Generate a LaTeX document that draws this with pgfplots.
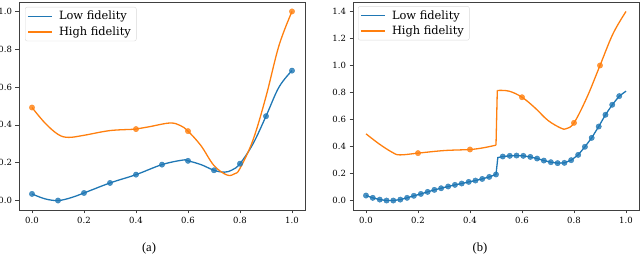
\documentclass[border=0pt]{standalone}
\usepackage{pgfplots}
\pgfplotsset{compat=1.18}
\usepackage{fontspec}
\setmainfont{Liberation Serif}
\newfontfamily\dvs{DejaVu Serif}
\definecolor{tabblue}{HTML}{1F77B4}
\definecolor{taborange}{HTML}{FF7F0E}
\pgfplotsset{
  mystyle/.style={
    scale only axis, width=286pt, height=208pt, anchor=south west,
    xmin=-0.05, xmax=1.05,
    axis line style={black!75, line width=0.8pt},
    tick style={black!75, line width=0.7pt},
    tick align=outside, major tick length=3.5pt,
    xtick pos=bottom, ytick pos=left,
    xtick={0,0.2,0.4,0.6,0.8,1.0},
    ticklabel style={font=\fontsize{8.5}{9}\dvs\selectfont},
    /pgf/number format/assume math mode=true,
    xticklabel style={/pgf/number format/fixed, /pgf/number format/fixed zerofill, /pgf/number format/precision=1},
    yticklabel style={/pgf/number format/fixed, /pgf/number format/fixed zerofill, /pgf/number format/precision=1},
    legend cell align=left,
    legend image code/.code={\draw[#1] (0pt,0pt) -- (24pt,0pt);},
    legend style={anchor=north west, draw=black!15, rounded corners=2pt,
      font=\fontsize{11.4}{13}\dvs\selectfont, inner xsep=2pt, inner ysep=2pt, row sep=1.5pt,
      column sep=3pt, nodes={inner xsep=3.5pt}},
  },
  lo/.style={tabblue, line width=1.3pt, no marks},
  hi/.style={taborange, line width=1.3pt, no marks},
  lom/.style={only marks, mark=*, mark size=2.7pt, mark options={draw=tabblue, fill=tabblue, opacity=0.8}},
  him/.style={only marks, mark=*, mark size=2.7pt, mark options={draw=taborange, fill=taborange, opacity=0.8}},
}
\begin{document}
\begin{tikzpicture}[x=1pt,y=1pt]
\useasboundingbox (0,0) rectangle (640,256);
\begin{axis}[mystyle, at={(19pt,46pt)}, ymin=-0.05, ymax=1.05,
  ytick={0,0.2,0.4,0.6,0.8,1.0},
  legend style={at={(0.021,0.976)}}]
\addplot[lo, smooth, tension=0.6] coordinates {(0,0.035) (0.05,0.009) (0.1,0.0) (0.15,0.015) (0.2,0.04) (0.3,0.093) (0.4,0.137) (0.5,0.19) (0.58,0.214) (0.6,0.21) (0.65,0.19) (0.7,0.16) (0.74,0.15) (0.77,0.162) (0.8,0.195) (0.85,0.3) (0.9,0.446) (0.95,0.6) (1.0,0.687)};
\addlegendentry{Low fidelity}
\addplot[hi, smooth, tension=0.6] coordinates {(0,0.492) (0.05,0.41) (0.1,0.35) (0.14,0.334) (0.2,0.345) (0.3,0.37) (0.4,0.378) (0.45,0.39) (0.53,0.41) (0.57,0.397) (0.6,0.367) (0.65,0.29) (0.7,0.185) (0.75,0.135) (0.78,0.142) (0.8,0.17) (0.85,0.32) (0.9,0.55) (0.95,0.82) (1.0,1.0)};
\addlegendentry{High fidelity}
\addplot[lom, forget plot] coordinates {(0,0.035) (0.1,0.0) (0.2,0.04) (0.3,0.093) (0.4,0.137) (0.5,0.19) (0.6,0.21) (0.7,0.16) (0.8,0.195) (0.9,0.446) (1.0,0.687)};
\addplot[him, forget plot] coordinates {(0,0.492) (0.4,0.378) (0.6,0.367) (1.0,1.0)};
\end{axis}
\begin{axis}[mystyle, at={(353pt,46pt)}, ymin=-0.07, ymax=1.47,
  ytick={0,0.2,0.4,0.6,0.8,1.0,1.2,1.4},
  legend style={at={(0.0175,0.98)}}]
\addplot[lo] coordinates {(0.000,0.037) (0.026,0.020) (0.053,0.007) (0.079,0.000) (0.105,0.000) (0.132,0.007) (0.158,0.020) (0.184,0.035) (0.211,0.049) (0.237,0.064) (0.263,0.079) (0.289,0.091) (0.316,0.104) (0.342,0.116) (0.368,0.126) (0.395,0.138) (0.421,0.148) (0.447,0.160) (0.474,0.175) (0.500,0.193) (0.507,0.318) (0.526,0.326) (0.553,0.331) (0.579,0.333) (0.605,0.331) (0.632,0.323) (0.658,0.311) (0.684,0.296) (0.711,0.284) (0.737,0.277) (0.763,0.279) (0.789,0.299) (0.816,0.338) (0.842,0.398) (0.868,0.464) (0.895,0.548) (0.921,0.635) (0.947,0.709) (0.974,0.773) (1.000,0.810)};
\addlegendentry{Low fidelity}
\addplot[hi, smooth, tension=0.6] coordinates {(0,0.494) (0.05,0.42) (0.1,0.358) (0.13,0.338) (0.2,0.351) (0.3,0.37) (0.4,0.378) (0.45,0.39) (0.5,0.41)};
\addlegendentry{High fidelity}
\addplot[hi, forget plot] coordinates {(0.5,0.41) (0.505,0.815)};
\addplot[hi, smooth, tension=0.6, forget plot] coordinates {(0.505,0.815) (0.55,0.81) (0.6,0.765) (0.65,0.686) (0.7,0.593) (0.75,0.536) (0.77,0.532) (0.8,0.575) (0.85,0.765) (0.9,1.0) (0.95,1.235) (1.0,1.40)};
\addplot[lom, forget plot] coordinates {(0.000,0.037) (0.026,0.020) (0.053,0.007) (0.079,0.000) (0.105,0.000) (0.132,0.007) (0.158,0.020) (0.184,0.035) (0.211,0.049) (0.237,0.064) (0.263,0.079) (0.289,0.091) (0.316,0.104) (0.342,0.116) (0.368,0.126) (0.395,0.138) (0.421,0.148) (0.447,0.160) (0.474,0.175) (0.500,0.193) (0.526,0.326) (0.553,0.331) (0.579,0.333) (0.605,0.331) (0.632,0.323) (0.658,0.311) (0.684,0.296) (0.711,0.284) (0.737,0.277) (0.763,0.279) (0.789,0.299) (0.816,0.338) (0.842,0.398) (0.868,0.464) (0.895,0.548) (0.921,0.635) (0.947,0.709) (0.974,0.773)};
\addplot[him, forget plot] coordinates {(0.2,0.351) (0.4,0.378) (0.6,0.765) (0.8,0.575) (0.9,1.0)};
\end{axis}
\node[font=\fontsize{12.6}{14}\selectfont] at (149,7.5) {(a)};
\node[font=\fontsize{12.6}{14}\selectfont] at (480,7.5) {(b)};
\end{tikzpicture}
\end{document}
